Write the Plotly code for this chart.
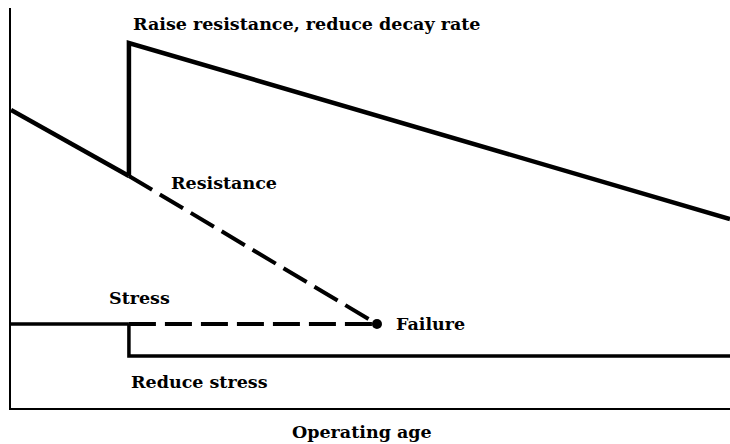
import plotly.graph_objects as go

# operating age (arbitrary units) and levels (arbitrary units)
age_before = [0, 16.4]
resistance_before = [74.5, 58]
age_raised = [16.4, 16.4, 100]
resistance_raised = [58, 91.25, 47.25]
age_old_path = [16.4, 50.9]
resistance_old_path = [58, 21]
age_stress = [0, 16.4]
stress_level = [21, 21]
age_stress_old = [16.4, 50.9]
stress_old = [21, 21]
age_reduced = [16.4, 16.4, 100]
stress_reduced = [21, 13, 13]
failure_age = [50.9]
failure_level = [21]

fig = go.Figure()

solid = dict(color="black", width=4.5)
dashed = dict(color="black", width=4, dash="27px,9px")

fig.add_trace(go.Scatter(x=age_before, y=resistance_before, mode="lines", line=solid))
fig.add_trace(go.Scatter(x=age_raised, y=resistance_raised, mode="lines", line=solid))
fig.add_trace(go.Scatter(x=age_old_path, y=resistance_old_path, mode="lines", line=dashed))
fig.add_trace(go.Scatter(x=age_stress, y=stress_level, mode="lines", line=dict(color="black", width=3.5)))
fig.add_trace(go.Scatter(x=age_stress_old, y=stress_old, mode="lines", line=dashed))
fig.add_trace(go.Scatter(x=age_reduced, y=stress_reduced, mode="lines", line=dict(color="black", width=3.5)))
fig.add_trace(go.Scatter(x=failure_age, y=failure_level, mode="markers",
                         marker=dict(color="black", size=10)))

font = dict(family="DejaVu Serif", size=17.5, color="black")
labels = [
    (16.7, 96, "<b>Raise resistance, reduce decay rate</b>"),
    (22.0, 56.25, "<b>Resistance</b>"),
    (13.35, 27.5, "<b>Stress</b>"),
    (53.3, 21, "<b>Failure</b>"),
    (16.4, 6.5, "<b>Reduce stress</b>"),
]
for x, y, t in labels:
    fig.add_annotation(x=x, y=y, text=t, showarrow=False, xanchor="left",
                       yanchor="middle", font=font)

fig.add_annotation(x=0.488, y=0, xref="paper", yref="paper", yshift=-24,
                   text="<b>Operating age</b>", showarrow=False,
                   xanchor="center", yanchor="middle", font=font)

fig.update_xaxes(range=[0, 100], showline=True, linecolor="black", linewidth=2,
                 showgrid=False, zeroline=False, showticklabels=False, ticks="")
fig.update_yaxes(range=[0, 100], showline=True, linecolor="black", linewidth=2,
                 showgrid=False, zeroline=False, showticklabels=False, ticks="")
fig.update_layout(width=730, height=444, showlegend=False,
                  margin=dict(l=11, r=0, t=8, b=36),
                  plot_bgcolor="white", paper_bgcolor="white")

# drop the default page margin so the figure fills the window
fig.write_html("out.html", config=dict(displayModeBar=False),
               post_script="document.body.style.margin='0';document.body.style.overflow='hidden';")
